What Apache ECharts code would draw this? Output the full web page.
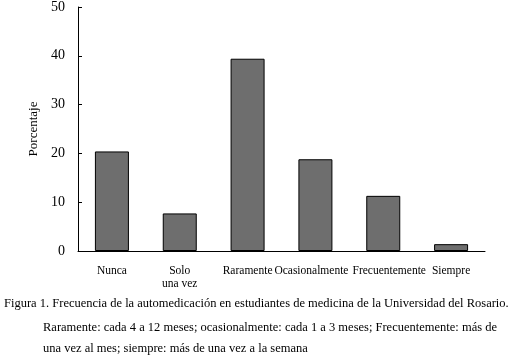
<!DOCTYPE html>
<html>
<head>
<meta charset="utf-8">
<script src="https://cdn.jsdelivr.net/npm/echarts@6/dist/echarts.min.js"></script>
<style>
  html, body { margin: 0; padding: 0; background: #fff; }
  #chart { width: 513px; height: 359px; }
</style>
</head>
<body>
<div id="chart"></div>
<script>
// datos
const categorias = ["Nunca", "Solo\nuna vez", "Raramente", "Ocasionalmente", "Frecuentemente", "Siempre"];
const porcentajes = [20.4, 7.7, 39.4, 18.8, 11.3, 1.4];
const yTicks = [0, 10, 20, 30, 40, 50];

const fuente = "Liberation Serif";

const chart = echarts.init(document.getElementById("chart"), null, { renderer: "canvas" });

// estilo de las etiquetas del eje x; las dos largas se separan un poco
const etq = { fontFamily: fuente, fontSize: 11.5, color: "#000", lineHeight: 13 };

const option = {
  animation: false,
  backgroundColor: "#fff",
  grid: { left: 78, right: 28, top: 5, bottom: 108, containLabel: false },
  xAxis: {
    type: "category",
    data: categorias,
    axisLine: { lineStyle: { color: "#000", width: 1 } },
    axisTick: { show: false },
    axisLabel: {
      color: "#000", fontFamily: fuente, fontSize: 11.5, margin: 13,
      lineHeight: 13, interval: 0,
      formatter: function (v) {
        if (v === "Ocasionalmente") return "{izq|" + v + "}";
        if (v === "Frecuentemente") return "{der|" + v + "}";
        return v;
      },
      rich: {
        izq: Object.assign({ padding: [0, 8, 0, 0] }, etq),
        der: Object.assign({ padding: [0, 0, 0, 12] }, etq)
      }
    }
  },
  yAxis: {
    type: "value",
    min: yTicks[0],
    max: yTicks[yTicks.length - 1],
    interval: 10,
    name: "Porcentaje",
    nameLocation: "middle",
    nameGap: 36,
    nameRotate: 90,
    nameTextStyle: { color: "#000", fontFamily: fuente, fontSize: 13 },
    axisLine: { show: true, lineStyle: { color: "#000", width: 1 } },
    axisTick: { show: true, inside: true, length: 4, lineStyle: { color: "#000" } },
    splitLine: { show: false },
    axisLabel: { color: "#000", fontFamily: fuente, fontSize: 14, margin: 13 }
  },
  series: [{
    type: "bar",
    data: porcentajes,
    barWidth: 34,
    itemStyle: { color: "#6e6e6e", borderColor: "#000", borderWidth: 1 }
  }],
  graphic: [
    {
      type: "text", left: 4, top: 297,
      style: {
        text: "Figura 1. Frecuencia de la automedicación en estudiantes de medicina de la Universidad del Rosario.",
        font: "12.5px " + fuente, fill: "#000"
      }
    },
    {
      type: "text", left: 43, top: 317,
      style: {
        text: "Raramente: cada 4 a 12 meses; ocasionalmente: cada 1 a 3 meses; Frecuentemente: más de\nuna vez al mes; siempre: más de una vez a la semana",
        font: "12.5px " + fuente, fill: "#000", lineHeight: 21
      }
    }
  ]
};

chart.setOption(option);
</script>
</body>
</html>
